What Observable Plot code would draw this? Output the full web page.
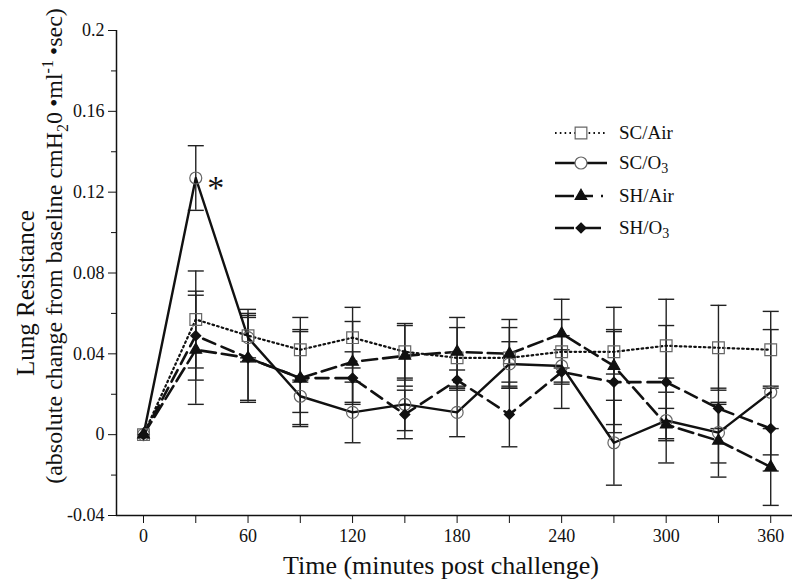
<!DOCTYPE html>
<html><head><meta charset="utf-8">
<script src="https://cdn.jsdelivr.net/npm/d3@7"></script>
<script src="https://cdn.jsdelivr.net/npm/@observablehq/plot@0.6"></script>
<style>
body{margin:0;background:#fff}
#wrap{position:relative;width:800px;height:583px;font-family:"Liberation Serif","Times New Roman",serif}
#legend{position:absolute;left:0;top:0;pointer-events:none}
</style></head>
<body><div id="wrap"></div>
<script>
// ---- data ----
const times = [0,30,60,90,120,150,180,210,240,270,300,330,360];
const seriesNames = ["SC/Air","SC/O3","SH/Air","SH/O3"];
const scAir    = [0,0.057,0.049,0.042,0.048,0.041,0.038,0.038,0.041,0.041,0.044,0.043,0.042];
const scAirErr = [0,0.024,0.013,0.016,0.015,0.014,0.015,0.015,0.016,0.011,0.023,0.021,0.019];
const scO3     = [0,0.127,0.048,0.019,0.011,0.015,0.011,0.035,0.034,-0.004,0.007,0.001,0.021];
const scO3Err  = [0,0.016,0.010,0.008,0.015,0.013,0.012,0.011,0.008,0.021,0.021,0.015,0.031];
const shAir    = [0,0.042,0.038,0.028,0.036,0.039,0.041,0.040,0.050,0.034,0.005,-0.003,-0.016];
const shAirErr = [0,0.027,0.021,0.023,0.020,0.015,0.017,0.017,0.017,0.029,0.008,0.018,0.019];
const shO3     = [0,0.049,0.038,0.028,0.028,0.010,0.027,0.010,0.031,0.026,0.026,0.013,0.003];
const shO3Err  = [0,0.022,0.022,0.024,0.013,0.012,0.005,0.016,0.018,0.025,0.028,0.010,0.021];
const xTicks = [0,60,120,180,240,300,360];
const xMinor = [30,90,150,210,270,330];
const yTicks = [-0.04,0,0.04,0.08,0.12,0.16,0.2];
const yTickLabels = ["-0.04","0","0.04","0.08","0.12","0.16","0.2"];
const yMinor = [-0.02,0.02,0.06,0.10,0.14,0.18];
const xDomain = [-15.5, 372.5];
const yDomain = [-0.04, 0.2];
const starPoint = [{t:30, v:0.127, label:"*"}];

// ---- styles per series ----
const styles = {
  "SC/Air": {dash:"1.6,3.2", legDash:"1.6,3.2", width:2.2, symbol:"square", r:6.6, fill:"none", stroke:"#666"},
  "SC/O3":  {dash:null, legDash:null, width:2.4, symbol:"circle", r:6, fill:"none", stroke:"#666"},
  "SH/Air": {dash:"15,6", legDash:"19,7,12,8,2", width:2.6, symbol:"triangle", r:4.3, fill:"#111", stroke:"#111"},
  "SH/O3":  {dash:"13,7", legDash:"19,8", width:2.6, symbol:"diamond2", r:4.5, fill:"#111", stroke:"#111"}
};
const vals = [scAir, scO3, shAir, shO3];
const errs = [scAirErr, scO3Err, shAirErr, shO3Err];
const rows = seriesNames.map((s, k) => times.map((t, i) => ({series:s, t, v:vals[k][i], e:errs[k][i]})));

const marks = [];
// error bars
rows.forEach(r => {
  const eb = r.filter(d => d.e > 0);
  marks.push(Plot.ruleX(eb, {x:"t", y1:d=>d.v-d.e, y2:d=>d.v+d.e, stroke:"#222", strokeWidth:1.4}));
  marks.push(Plot.link(eb, {x1:d=>d.t-4.6, x2:d=>d.t+4.6, y1:d=>d.v+d.e, y2:d=>d.v+d.e, stroke:"#222", strokeWidth:1.4}));
  marks.push(Plot.link(eb, {x1:d=>d.t-4.6, x2:d=>d.t+4.6, y1:d=>d.v-d.e, y2:d=>d.v-d.e, stroke:"#222", strokeWidth:1.4}));
});
// lines
rows.forEach((r, k) => {
  const st = styles[seriesNames[k]];
  marks.push(Plot.line(r, {x:"t", y:"v", stroke:"#111", strokeWidth:st.width, strokeDasharray:st.dash}));
});
// markers
rows.forEach((r, k) => {
  const st = styles[seriesNames[k]];
  marks.push(Plot.dot(r, {x:"t", y:"v", symbol:st.symbol, r:st.r, fill:st.fill, stroke:st.stroke, strokeWidth:1.2}));
});
marks.push(Plot.text(starPoint, {x:"t", y:"v", text:"label", dx:20, dy:10, fontSize:34, fill:"#111"}));
// axes
marks.push(Plot.ruleX([xDomain[0]], {stroke:"#111", strokeWidth:1.5}));
marks.push(Plot.ruleY([yDomain[0]], {stroke:"#111", strokeWidth:1.5}));
marks.push(Plot.axisY(yTicks, {anchor:"left", tickSize:8, tickPadding:4, fontSize:18, tickFormat:(d,i)=>yTickLabels[i], label:null}));
marks.push(Plot.axisY(yMinor, {anchor:"left", tickSize:5, tickFormat:()=>"", label:null}));
marks.push(Plot.axisX(xTicks, {anchor:"bottom", tickSize:8, tickPadding:6, fontSize:18, label:null}));
marks.push(Plot.axisX(xMinor, {anchor:"bottom", tickSize:8, tickFormat:()=>"", label:null}));

const svg = Plot.plot({
  width:800, height:583,
  marginLeft:116, marginRight:8, marginTop:30, marginBottom:68,
  style:{fontFamily:'"Liberation Serif","Times New Roman",serif', background:"#fff", color:"#111"},
  x:{domain:xDomain, label:null},
  y:{domain:yDomain, label:null},
  marks
});
document.getElementById("wrap").appendChild(svg);

const S = d3.select(svg);
S.append("text").attr("x", 441).attr("y", 574).attr("text-anchor","middle")
  .attr("font-size", 26).attr("fill","#111").text("Time (minutes post challenge)");
S.append("text").attr("transform","translate(34,293) rotate(-90)").attr("text-anchor","middle")
  .attr("font-size", 25).attr("fill","#111").text("Lung Resistance");
const t2 = S.append("text").attr("transform","translate(62,246) rotate(-90)").attr("text-anchor","middle")
  .attr("font-size", 24).attr("fill","#111");
t2.append("tspan").text("(absolute change from baseline cmH");
t2.append("tspan").attr("font-size",16).attr("dy",6).text("2");
t2.append("tspan").attr("dy",-6).text("0\u2009\u2022ml");
t2.append("tspan").attr("font-size",16).attr("dy",-9).text("-1");
t2.append("tspan").attr("dy",9).text("\u2009\u2022sec)");

// legend
const leg = d3.select("#wrap").append("svg").attr("id","legend").attr("width",800).attr("height",583);
const legY = [133,163,196,228];
seriesNames.forEach((s,k) => {
  const st = styles[s];
  const g = leg.append("g").attr("transform", `translate(0,${legY[k]})`);
  g.append("line").attr("x1",555).attr("x2",607).attr("y1",0).attr("y2",0)
    .attr("stroke","#111").attr("stroke-width",st.width).attr("stroke-dasharray", st.legDash);
  const sym = {square:d3.symbolSquare, circle:d3.symbolCircle, triangle:d3.symbolTriangle, diamond2:d3.symbolDiamond2}[st.symbol];
  g.append("path").attr("transform","translate(581,0)")
    .attr("d", d3.symbol(sym, Math.PI*st.r*st.r)())
    .attr("fill", st.fill === "none" ? "#fff" : st.fill).attr("stroke", st.stroke).attr("stroke-width",1.2);
  const tx = g.append("text").attr("x",619).attr("y",6).attr("font-size",19).attr("fill","#111")
    .attr("font-family",'"Liberation Serif","Times New Roman",serif');
  if (s.endsWith("O3")) {
    tx.append("tspan").text(s.slice(0,-1));
    tx.append("tspan").attr("font-size",14).attr("dy",4).text("3");
  } else tx.text(s);
});
</script>
</body></html>
